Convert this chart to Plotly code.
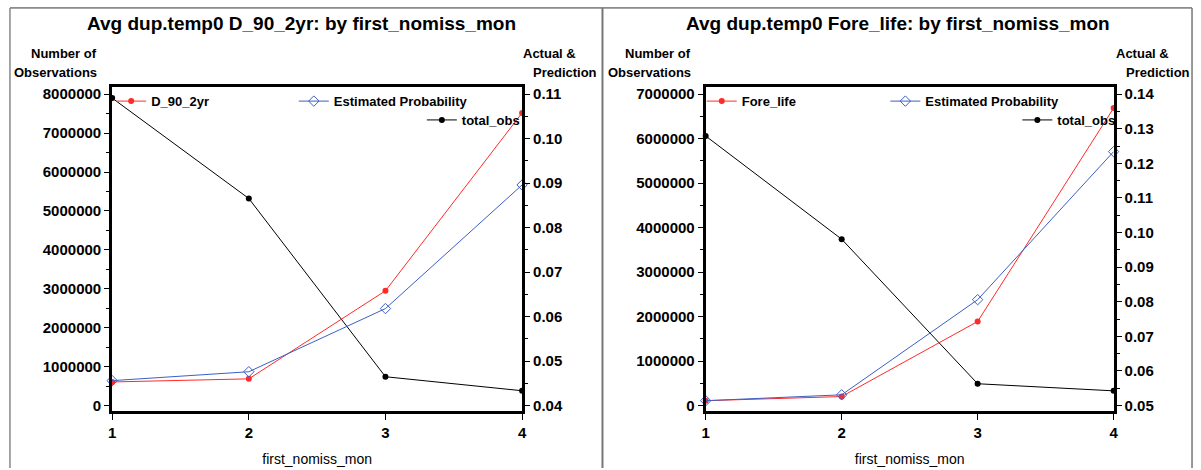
import plotly.graph_objects as go

W, H = 1201, 470

x_vals = [1, 2, 3, 4]
x_ticklabels = ["1", "2", "3", "4"]

left_total_obs = [7900000, 5320000, 740000, 380000]
left_actual = [0.0453, 0.0460, 0.0658, 0.1058]
left_est = [0.0456, 0.0476, 0.0618, 0.0896]

right_total_obs = [6060000, 3740000, 490000, 330000]
right_actual = [0.0514, 0.0526, 0.0743, 0.1360]
right_est = [0.0514, 0.0531, 0.0806, 0.1234]

left_title = "Avg dup.temp0 D_90_2yr: by first_nomiss_mon"
right_title = "Avg dup.temp0 Fore_life: by first_nomiss_mon"
left_actual_name = "D_90_2yr"
right_actual_name = "Fore_life"
est_name = "Estimated Probability"
obs_name = "total_obs"
x_title = "first_nomiss_mon"

RED = "#ff2a2a"
BLUE = "#3d5fc4"
FONT = "Liberation Sans"


def px(x):
    return x / W


def py(y):
    return 1 - y / H


def bold(size):
    return dict(family=FONT, size=size, color="black", weight="bold")


fig = go.Figure()

# left panel
fig.add_trace(go.Scatter(x=x_vals, y=left_total_obs, name=obs_name, mode="lines+markers",
                         line=dict(color="black", width=1), marker=dict(color="black", size=6),
                         xaxis="x", yaxis="y", legend="legend3", cliponaxis=False))
fig.add_trace(go.Scatter(x=x_vals, y=left_actual, name=left_actual_name, mode="lines+markers",
                         line=dict(color=RED, width=1), marker=dict(color=RED, size=6),
                         xaxis="x", yaxis="y2", legend="legend", cliponaxis=False))
fig.add_trace(go.Scatter(x=x_vals, y=left_est, name=est_name, mode="lines+markers",
                         line=dict(color=BLUE, width=1),
                         marker=dict(symbol="diamond-open", color=BLUE, size=8, line=dict(width=1)),
                         xaxis="x", yaxis="y2", legend="legend2", cliponaxis=False))
# right panel
fig.add_trace(go.Scatter(x=x_vals, y=right_total_obs, name=obs_name, mode="lines+markers",
                         line=dict(color="black", width=1), marker=dict(color="black", size=6),
                         xaxis="x2", yaxis="y3", legend="legend6", cliponaxis=False))
fig.add_trace(go.Scatter(x=x_vals, y=right_actual, name=right_actual_name, mode="lines+markers",
                         line=dict(color=RED, width=1), marker=dict(color=RED, size=6),
                         xaxis="x2", yaxis="y4", legend="legend4", cliponaxis=False))
fig.add_trace(go.Scatter(x=x_vals, y=right_est, name=est_name, mode="lines+markers",
                         line=dict(color=BLUE, width=1),
                         marker=dict(symbol="diamond-open", color=BLUE, size=8, line=dict(width=1)),
                         xaxis="x2", yaxis="y4", legend="legend5", cliponaxis=False))

ydom = [py(413), py(86)]
common_x = dict(range=[1, 4], tickvals=x_vals, ticktext=x_ticklabels, ticks="outside", ticklen=6,
                tickwidth=1, tickcolor="black", showline=True, linewidth=3, linecolor="black",
                mirror=True, showgrid=False, zeroline=False, tickfont=bold(15),
                title=dict(text=x_title, font=dict(family=FONT, size=14, color="black"), standoff=14))
common_y = dict(ticks="outside", ticklen=5, tickwidth=1, tickcolor="black", showline=True,
                linewidth=3, linecolor="black", showgrid=False, zeroline=False,
                tickfont=bold(15))


def yrange(lo_val, hi_val, lo_px=407, hi_px=93, top=86, bottom=413):
    per = (hi_val - lo_val) / (lo_px - hi_px)
    return [lo_val - (bottom - lo_px) * per, hi_val + (hi_px - top) * per]


fig.update_layout(
    width=W, height=H, margin=dict(l=0, r=0, t=0, b=0),
    paper_bgcolor="white", plot_bgcolor="white",
    xaxis=dict(domain=[px(109), px(522)], anchor="y", **common_x),
    yaxis=dict(domain=ydom, anchor="x", range=yrange(0, 8000000), dtick=1000000, tick0=0,
               tickformat="d", minor=dict(ticks="outside", ticklen=3, dtick=500000, tickcolor="black"),
               **common_y),
    yaxis2=dict(overlaying="y", side="right", anchor="x", range=yrange(0.04, 0.11), dtick=0.01,
                tick0=0.04, tickformat=".2f",
                minor=dict(ticks="outside", ticklen=3, dtick=0.005, tickcolor="black"), **common_y),
    xaxis2=dict(domain=[px(707), px(1118)], anchor="y3", **common_x),
    yaxis3=dict(domain=ydom, anchor="x2", range=yrange(0, 7000000), dtick=1000000, tick0=0,
                tickformat="d", minor=dict(ticks="outside", ticklen=3, dtick=500000, tickcolor="black"),
                **common_y),
    yaxis4=dict(overlaying="y3", side="right", anchor="x2", range=yrange(0.05, 0.14), dtick=0.01,
                tick0=0.05, tickformat=".2f",
                minor=dict(ticks="outside", ticklen=3, dtick=0.005, tickcolor="black"), **common_y),
    showlegend=True,
)

leg_common = dict(bgcolor="rgba(0,0,0,0)", borderwidth=0, font=bold(13), xanchor="left",
                  yanchor="middle", itemwidth=30)
fig.update_layout(
    legend=dict(x=px(108), y=py(100), **leg_common),
    legend2=dict(x=px(292), y=py(100), **leg_common),
    legend3=dict(x=px(421), y=py(119), **leg_common),
    legend4=dict(x=px(703), y=py(100), **leg_common),
    legend5=dict(x=px(888), y=py(100), **leg_common),
    legend6=dict(x=px(1021), y=py(119), **leg_common),
)

ann = []
for cx, t in [(300, left_title), (901, right_title)]:
    ann.append(dict(x=px(cx), y=py(22), xref="paper", yref="paper", text=t, showarrow=False,
                    xanchor="center", yanchor="middle", font=bold(19)))
for off in [0, 598]:
    ann.append(dict(x=px(96 + off), y=py(52), xref="paper", yref="paper", text="Number of",
                    showarrow=False, xanchor="right", yanchor="middle", font=bold(13)))
    ann.append(dict(x=px(96 + off), y=py(71), xref="paper", yref="paper", text="Observations",
                    showarrow=False, xanchor="right", yanchor="middle", font=bold(13)))
    ann.append(dict(x=px(578 + off), y=py(52), xref="paper", yref="paper", text="Actual &amp;",
                    showarrow=False, xanchor="right", yanchor="middle", font=bold(13)))
    ann.append(dict(x=px(599 + off), y=py(71), xref="paper", yref="paper", text="Prediction",
                    showarrow=False, xanchor="right", yanchor="middle", font=bold(13)))
fig.update_layout(annotations=ann)

# panel borders
shapes = [
    dict(type="line", xref="paper", yref="paper", x0=px(6), x1=px(1197), y0=py(6), y1=py(6),
         line=dict(color="#333333", width=1)),
    dict(type="line", xref="paper", yref="paper", x0=px(6), x1=px(6), y0=py(6), y1=0,
         line=dict(color="#888888", width=1.5)),
    dict(type="line", xref="paper", yref="paper", x0=px(603), x1=px(603), y0=py(6), y1=0,
         line=dict(color="#777777", width=2)),
    dict(type="line", xref="paper", yref="paper", x0=px(1197), x1=px(1197), y0=py(6), y1=0,
         line=dict(color="#777777", width=1.5)),
]
fig.update_layout(shapes=shapes)

fig.write_html("out.html")
